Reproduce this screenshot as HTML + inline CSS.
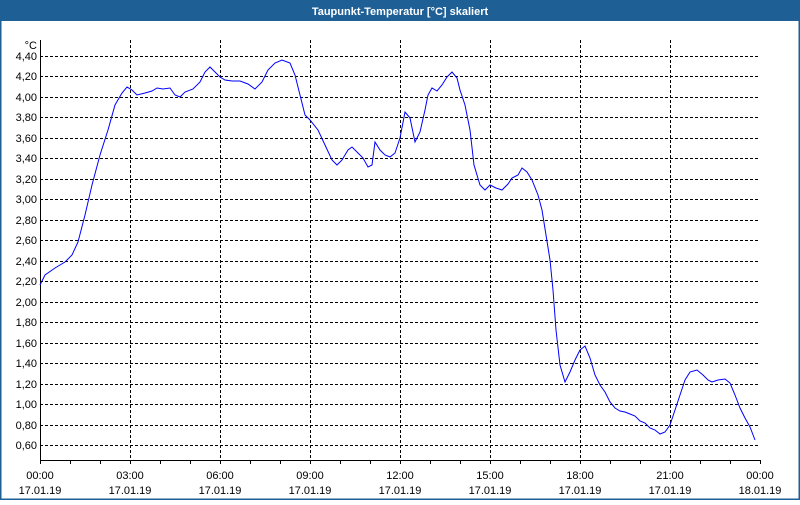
<!DOCTYPE html>
<html><head><style>
html,body{margin:0;padding:0;background:#fff}
</style></head><body>
<svg width="800" height="500" xmlns="http://www.w3.org/2000/svg" font-family="Liberation Sans, sans-serif" font-size="11">
<rect x="0" y="0" width="800" height="500" fill="#fff"/>
<rect x="0" y="0" width="800" height="21" fill="#1e5f96"/>
<rect x="0.5" y="0.5" width="799" height="499" fill="none" stroke="#1e5f96" stroke-width="2"/>
<text x="400" y="15" text-anchor="middle" fill="#fff" font-weight="bold">Taupunkt-Temperatur [°C] skaliert</text>
<g stroke="#000" stroke-dasharray="3,2" stroke-width="1">
<line x1="40" x2="760" y1="56.5" y2="56.5"/><line x1="40" x2="760" y1="76.5" y2="76.5"/><line x1="40" x2="760" y1="97.5" y2="97.5"/><line x1="40" x2="760" y1="117.5" y2="117.5"/><line x1="40" x2="760" y1="138.5" y2="138.5"/><line x1="40" x2="760" y1="158.5" y2="158.5"/><line x1="40" x2="760" y1="179.5" y2="179.5"/><line x1="40" x2="760" y1="199.5" y2="199.5"/><line x1="40" x2="760" y1="220.5" y2="220.5"/><line x1="40" x2="760" y1="240.5" y2="240.5"/><line x1="40" x2="760" y1="261.5" y2="261.5"/><line x1="40" x2="760" y1="281.5" y2="281.5"/><line x1="40" x2="760" y1="302.5" y2="302.5"/><line x1="40" x2="760" y1="322.5" y2="322.5"/><line x1="40" x2="760" y1="343.5" y2="343.5"/><line x1="40" x2="760" y1="363.5" y2="363.5"/><line x1="40" x2="760" y1="384.5" y2="384.5"/><line x1="40" x2="760" y1="404.5" y2="404.5"/><line x1="40" x2="760" y1="425.5" y2="425.5"/><line x1="40" x2="760" y1="445.5" y2="445.5"/>
<line x1="130.5" x2="130.5" y1="40" y2="460"/><line x1="220.5" x2="220.5" y1="40" y2="460"/><line x1="310.5" x2="310.5" y1="40" y2="460"/><line x1="400.5" x2="400.5" y1="40" y2="460"/><line x1="490.5" x2="490.5" y1="40" y2="460"/><line x1="580.5" x2="580.5" y1="40" y2="460"/><line x1="670.5" x2="670.5" y1="40" y2="460"/>
</g>
<g stroke="#000" stroke-width="1">
<line x1="40.5" x2="40.5" y1="40" y2="464"/><line x1="40" x2="761" y1="460.5" y2="460.5"/><line x1="760.5" x2="760.5" y1="460" y2="464"/>
<path d="M70.5 460v4M100.5 460v4M130.5 460v4M160.5 460v4M190.5 460v4M220.5 460v4M250.5 460v4M280.5 460v4M310.5 460v4M340.5 460v4M370.5 460v4M400.5 460v4M430.5 460v4M460.5 460v4M490.5 460v4M520.5 460v4M550.5 460v4M580.5 460v4M610.5 460v4M640.5 460v4M670.5 460v4M700.5 460v4M730.5 460v4"/>
</g>
<g text-anchor="end" fill="#000">
<text x="37" y="49">°C</text>
<text x="37" y="60">4,40</text><text x="37" y="80">4,20</text><text x="37" y="101">4,00</text><text x="37" y="121">3,80</text><text x="37" y="142">3,60</text><text x="37" y="162">3,40</text><text x="37" y="183">3,20</text><text x="37" y="203">3,00</text><text x="37" y="224">2,80</text><text x="37" y="244">2,60</text><text x="37" y="265">2,40</text><text x="37" y="285">2,20</text><text x="37" y="306">2,00</text><text x="37" y="326">1,80</text><text x="37" y="347">1,60</text><text x="37" y="367">1,40</text><text x="37" y="388">1,20</text><text x="37" y="408">1,00</text><text x="37" y="429">0,80</text><text x="37" y="449">0,60</text>
</g>
<g text-anchor="middle" fill="#000">
<text x="40" y="479">00:00</text><text x="40" y="494">17.01.19</text>
<text x="130" y="479">03:00</text><text x="130" y="494">17.01.19</text>
<text x="220" y="479">06:00</text><text x="220" y="494">17.01.19</text>
<text x="310" y="479">09:00</text><text x="310" y="494">17.01.19</text>
<text x="400" y="479">12:00</text><text x="400" y="494">17.01.19</text>
<text x="490" y="479">15:00</text><text x="490" y="494">17.01.19</text>
<text x="580" y="479">18:00</text><text x="580" y="494">17.01.19</text>
<text x="670" y="479">21:00</text><text x="670" y="494">17.01.19</text>
<text x="760" y="479">00:00</text><text x="760" y="494">18.01.19</text>
</g>
<polyline fill="none" stroke="#0000ff" stroke-width="1" points="40,285 45,275 55,268 65,262 72,255 78,242 85,215 92,185 100,155 108,130 115,105 122,93 127,87 132,90 137,95 145,93 152,91 157,88 163,89 170,88 175,95 180,97 185,92 193,89 200,82 205,72 210,67 215,72 220,77 225,80 232,81 240,81 248,84 255,89 262,82 268,70 275,63 282,60 290,63 295,75 300,95 305,115 310,120 318,130 325,145 332,160 337,165 342,160 348,150 352,147 358,153 363,158 368,167 372,165 375,142 380,150 385,155 390,157 395,153 400,138 405,112 410,118 415,142 420,132 425,110 428,95 432,88 437,91 442,85 447,77 452,72 457,78 460,90 465,105 470,130 474,165 480,185 485,190 490,185 496,188 502,190 508,184 512,178 518,175 522,168 527,172 532,180 538,195 542,210 546,235 550,260 553,290 556,330 560,365 565,382 570,372 575,360 580,350 585,346 590,358 595,375 600,385 605,392 610,402 615,408 620,411 625,412 630,414 635,416 640,421 645,423 650,428 655,430 660,434 665,432 670,425 675,410 680,395 685,380 690,372 697,370 703,375 708,380 712,382 718,380 725,379 730,383 735,395 740,408 745,418 750,427 755,440"/>
</svg>
</body></html>
